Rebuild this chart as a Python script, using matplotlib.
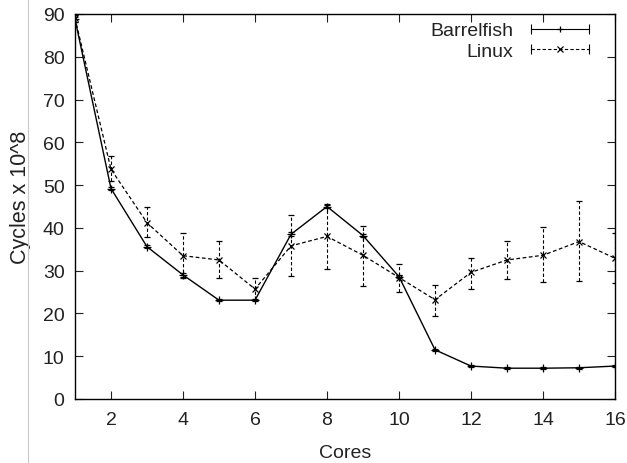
import numpy as np
import matplotlib.pyplot as plt
from matplotlib.lines import Line2D
from matplotlib.legend_handler import HandlerBase

plt.rcParams['font.family'] = ['Liberation Sans', 'DejaVu Sans']

cores = list(range(1, 17))
barrelfish = [88.8, 49.2, 35.6, 29.0, 23.1, 23.1, 38.5, 45.0, 38.2, 28.6, 11.5, 7.7, 7.2, 7.2, 7.3, 7.7]
barrelfish_err = [0.6, 0.4, 0.4, 0.4, 0.3, 0.3, 0.5, 0.4, 0.4, 0.4, 0.3, 0.2, 0.2, 0.2, 0.2, 0.2]
linux = [89.0, 53.7, 41.2, 33.5, 32.5, 25.7, 35.8, 38.0, 33.6, 28.4, 23.2, 29.6, 32.5, 33.6, 36.8, 32.9]
linux_lo = [88.2, 51.0, 37.8, 28.2, 28.4, 23.2, 28.8, 30.5, 26.3, 24.9, 19.3, 25.7, 28.0, 27.4, 27.6, 27.1]
linux_hi = [89.8, 56.8, 45.0, 38.8, 37.0, 28.4, 43.0, 45.5, 40.5, 31.5, 26.6, 32.9, 37.0, 40.1, 46.3, 38.8]

linux_err = [np.array(linux) - np.array(linux_lo), np.array(linux_hi) - np.array(linux)]


class ErrLineHandler(HandlerBase):
    # gnuplot-style key sample: line with end caps and a point in the middle
    def __init__(self, dashed, marker):
        super().__init__()
        self.dashed = dashed
        self.marker = marker

    def create_artists(self, legend, orig_handle, xdescent, ydescent, width, height, fontsize, trans):
        y = height / 2 - ydescent
        x0, x1 = -xdescent, -xdescent + width
        line = Line2D([x0, x1], [y, y], color='black', lw=0.8, transform=trans)
        if self.dashed:
            line.set_dashes((3, 2))
        caps = Line2D([x0, x1], [y, y], ls='none', marker='|', ms=7, mew=0.8, color='black', transform=trans)
        mid = Line2D([(x0 + x1) / 2], [y], ls='none', marker=self.marker, ms=5, mew=0.9, color='black', transform=trans)
        return [line, caps, mid]


fig = plt.figure(figsize=(6.27, 4.64), dpi=100)
ax = fig.add_axes([75 / 627, 1 - 400 / 464, 540 / 627, 385 / 464])

eb1 = ax.errorbar(cores, barrelfish, yerr=barrelfish_err, color='black', lw=1.0, marker='+', ms=6, mew=0.9,
                  capsize=2.5, elinewidth=0.8, capthick=0.8)
eb2 = ax.errorbar(cores, linux, yerr=linux_err, color='black', lw=0.9, ls='--', dashes=(3, 2), marker='x', ms=5,
                  mew=0.9, capsize=2.5, elinewidth=0.8, capthick=0.8)
eb2[2][0].set_linestyle((0, (3, 2)))

ax.set_xlim(1, 16)
ax.set_ylim(0, 90)
ax.set_xticks(range(2, 17, 2))
ax.set_yticks(range(0, 91, 10))
ax.tick_params(direction='in', top=True, right=True, length=6, width=0.8, labelsize=14, colors='#222222')
ax.tick_params(axis='x', pad=9)
ax.tick_params(axis='y', pad=7.5)
for s in ax.spines.values():
    s.set_linewidth(1.0)

ax.set_xlabel('Cores', fontsize=14, color='#222222')
ax.set_ylabel('Cycles x 10^8', fontsize=15.5, color='#222222')
ax.xaxis.set_label_coords(0.5, -0.1156)
ax.yaxis.set_label_coords(-0.081, 0.525)

leg = ax.legend([eb1, eb2], ['Barrelfish', 'Linux'], loc='upper right', bbox_to_anchor=(0.952, 0.98),
                markerfirst=False, frameon=False, fontsize=14, handlelength=3.0, handletextpad=0.9,
                labelspacing=0.16, borderaxespad=0, borderpad=0,
                handler_map={eb1: ErrLineHandler(False, '+'), eb2: ErrLineHandler(True, 'x')})
for t in leg.get_texts():
    t.set_color('#222222')

fig.add_artist(Line2D([28 / 627, 28 / 627], [0, 1], color='#c8c8c8', lw=0.8))

fig.savefig('out.png', dpi=100)
